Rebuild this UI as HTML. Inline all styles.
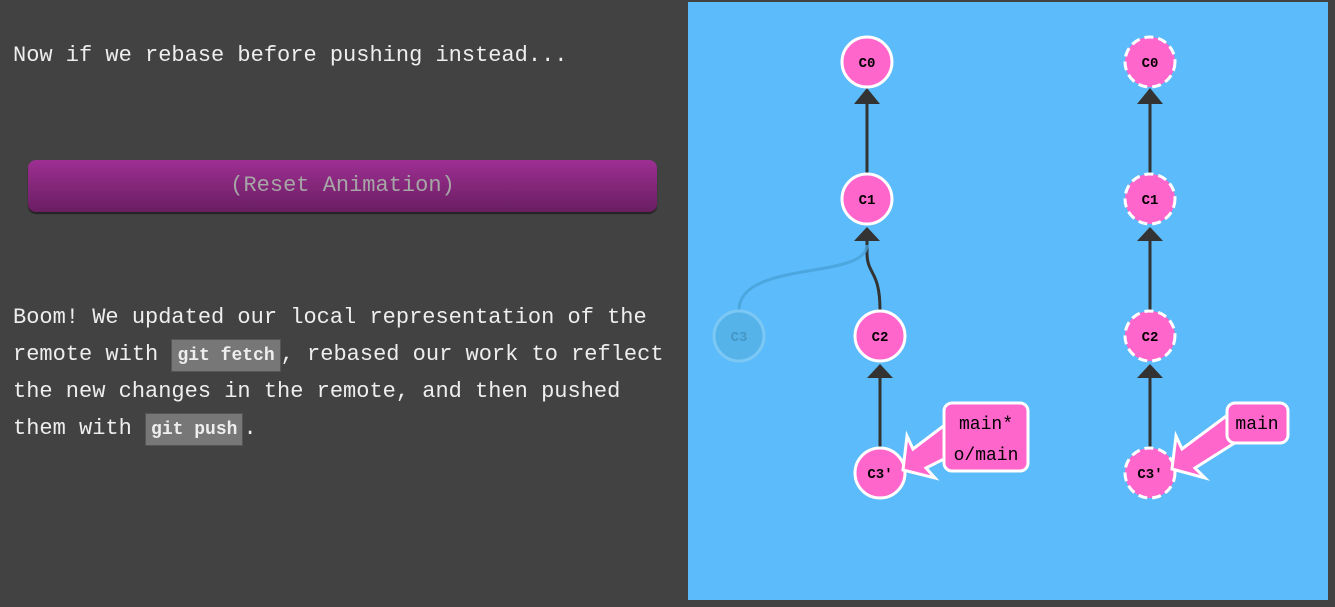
<!DOCTYPE html>
<html><head><meta charset="utf-8"><style>
body{margin:0;width:1335px;height:607px;background:#424242;overflow:hidden;position:relative;font-family:"Liberation Mono",monospace;color:#eee}
.t{position:absolute;left:13px;font-size:22px;line-height:37px;white-space:pre}
code{background:#777;border:1px solid #555;padding:6px 5px 5px;font-size:18px;line-height:1;font-family:"Liberation Mono",monospace;color:#eee;font-weight:bold}
#btn{position:absolute;left:28px;top:160px;width:629px;height:52px;border-radius:8px;background:linear-gradient(#9e2f92,#6a1e62);box-shadow:0 2px 1px #222;color:#a6a6a6;font-size:22px;text-align:center;line-height:52px;font-family:"Liberation Mono",monospace}
#panel{position:absolute;left:688px;top:2px;width:640px;height:598px;background:#5cbbfa}
</style></head><body>
<div class="t" style="top:37px">Now if we rebase before pushing instead...</div>
<div id="btn">(Reset Animation)</div>
<div class="t" style="top:299px">Boom! We updated our local representation of the
remote with <code>git fetch</code>, rebased our work to reflect
the new changes in the remote, and then pushed
them with <code>git push</code>.</div>
<div id="panel"></div>
<svg width="1335" height="607" style="position:absolute;left:0;top:0" font-family="Liberation Mono,monospace">
<g stroke="#333" stroke-width="3" fill="none">
<path d="M867 173V100"/><path d="M880 310C880 270 867 275 867 253V240"/><path d="M880 447V378"/>
<path d="M1150 173V100"/><path d="M1150 310V240"/><path d="M1150 447V378"/>
</g>
<path d="M739 310C739 260 867 280 867 245" stroke="#4aa3d8" stroke-width="3" fill="none" opacity="0.8"/>
<g fill="#333">
<path d="M854 104L867 88L880 104Z"/><path d="M854 241L867 227L880 241Z"/><path d="M867 378L880 364L893 378Z"/>
<path d="M1137 104L1150 88L1163 104Z"/><path d="M1137 241L1150 227L1163 241Z"/><path d="M1137 378L1150 364L1163 378Z"/>
</g>
<g><circle cx="739" cy="336" r="25" fill="#55b3ea" stroke="#7cc8f5" stroke-width="3"/><text x="739" y="341" text-anchor="middle" font-size="14" fill="#4596c5" font-weight="bold">C3</text></g>
<g stroke="#fff" stroke-width="3" fill="#ff66cc">
<circle cx="867" cy="62" r="25"/><circle cx="867" cy="199" r="25"/><circle cx="880" cy="336" r="25"/><circle cx="880" cy="473" r="25"/>
<g stroke-dasharray="9 5"><circle cx="1150" cy="62" r="25"/><circle cx="1150" cy="199" r="25"/><circle cx="1150" cy="336" r="25"/><circle cx="1150" cy="473" r="25"/></g>
</g>
<g font-size="14" font-weight="bold" fill="#000" text-anchor="middle">
<text x="867" y="67">C0</text><text x="867" y="204">C1</text><text x="880" y="341">C2</text><text x="880" y="478">C3'</text>
<text x="1150" y="67">C0</text><text x="1150" y="204">C1</text><text x="1150" y="341">C2</text><text x="1150" y="478">C3'</text>
</g>
<g fill="#ff66cc" stroke="#fff" stroke-width="3" stroke-linejoin="miter">
<path d="M903 470L907 436L913 449L946 424L946 458L926 468L935 478Z"/>
<rect x="944" y="403" width="84" height="68" rx="8"/>
<path d="M1172 469L1176 436L1182 449L1229 414L1233 444L1195 468L1205 478Z"/>
<rect x="1227" y="403" width="61" height="40" rx="8"/>
</g>
<g font-size="18" fill="#000" text-anchor="middle">
<text x="986" y="429">main*</text><text x="986" y="460">o/main</text><text x="1257" y="429">main</text>
</g>
</svg>
</body></html>
